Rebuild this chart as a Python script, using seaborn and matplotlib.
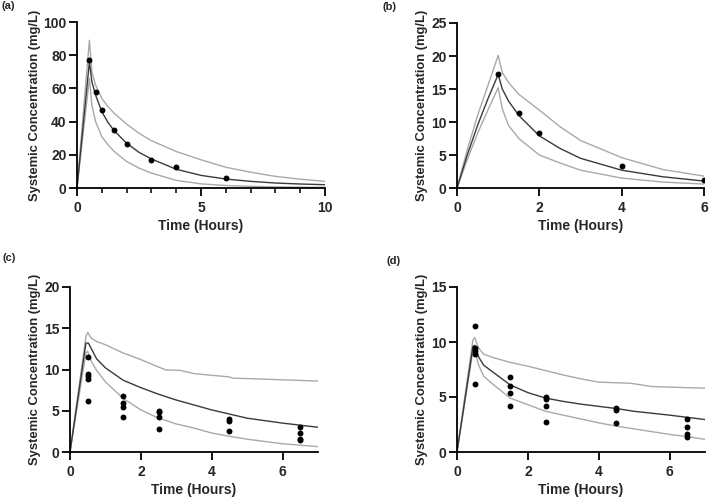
import matplotlib
matplotlib.use("Agg")
import matplotlib.pyplot as plt
import seaborn as sns
import pandas as pd
from matplotlib.ticker import MultipleLocator

# ---------------- data ----------------
# Panel (a)
a_t = [0, 0.5, 0.6, 0.75, 1, 1.25, 1.5, 2, 2.5, 3, 4, 5, 6, 7, 8, 9, 10]
a_med = [0, 76, 64, 56, 46, 39.5, 34.5, 27, 21.5, 17.5, 11.3, 7.6, 5.4, 4.0, 3.0, 2.4, 2.0]
a_up = [0, 89, 70, 62, 54, 49, 45, 38.5, 33, 28.5, 22, 17, 12.5, 9.5, 7, 5.3, 4.0]
a_lo = [0, 66, 50, 40, 31, 26, 22, 16, 12, 9, 4.6, 2.5, 1.5, 1.0, 0.7, 0.5, 0.4]
a_obs_t = [0.5, 0.75, 1, 1.5, 2, 3, 4, 6]
a_obs_c = [77, 58, 47, 35, 26.5, 17, 12.8, 6.3]

# Panel (b)
b_t = [0, 0.25, 0.5, 0.75, 1, 1.1, 1.25, 1.5, 2, 2.5, 3, 4, 5, 6]
b_med = [0, 5, 9.5, 13.5, 17.2, 15.0, 13.2, 11, 7.9, 6.0, 4.5, 2.7, 1.7, 1.05]
b_up = [0, 5.8, 11, 15.5, 20.1, 17.5, 16, 14.2, 11.8, 9.3, 7.2, 4.6, 2.8, 1.8]
b_lo = [0, 4.3, 8.3, 11.8, 15.2, 12.0, 9.5, 7.5, 5.0, 3.8, 2.7, 1.5, 0.9, 0.6]
b_obs_t = [1, 1.5, 2, 4, 6]
b_obs_c = [17.2, 11.4, 8.3, 3.3, 1.2]

# Shared observations for panels (c) and (d)
cd_obs_t = [0.5] * 5 + [1.5] * 4 + [2.5] * 4 + [4.5] * 3 + [6.5] * 4
cd_obs_c = [11.5, 9.5, 9.2, 8.9, 6.2,
            6.8, 6.0, 5.4, 4.2,
            5.0, 4.8, 4.2, 2.75,
            4.0, 3.8, 2.6,
            3.0, 2.3, 1.6, 1.4]

# Panel (c)
c_t_med = [0, 0.45, 0.52, 0.75, 1, 1.5, 2, 2.5, 3, 3.5, 4, 4.5, 5, 6, 7]
c_med = [0, 13.2, 13.2, 11.3, 10.2, 8.7, 7.8, 7.0, 6.3, 5.7, 5.1, 4.6, 4.1, 3.5, 3.0]
c_t_up = [0, 0.45, 0.5, 0.6, 0.75, 1, 1.5, 2, 2.5, 2.7, 3.1, 3.5, 4, 4.5, 4.6, 5, 6, 7]
c_up = [0, 14.0, 14.5, 13.8, 13.4, 13.0, 12.0, 11.2, 10.3, 9.95, 9.9, 9.5, 9.3, 9.1, 8.95, 8.9, 8.75, 8.6]
c_t_lo = [0, 0.45, 0.5, 0.6, 0.75, 1, 1.5, 2, 2.5, 3, 3.5, 4, 4.5, 5, 6, 7]
c_lo = [0, 12.0, 12.2, 11.0, 9.9, 8.5, 6.5, 5.1, 4.1, 3.4, 2.9, 2.3, 1.9, 1.55, 1.0, 0.65]

# Panel (d)
d_t_up = [0, 0.45, 0.5, 0.6, 0.75, 1, 1.5, 2, 2.5, 3, 3.5, 4, 4.9, 5.5, 6, 7]
d_up = [0, 10.2, 10.4, 9.5, 8.9, 8.6, 8.15, 7.8, 7.4, 7.0, 6.65, 6.35, 6.25, 5.95, 5.9, 5.8]
d_t_med = [0, 0.45, 0.5, 0.6, 0.75, 1, 1.5, 2, 2.5, 3, 3.5, 4, 4.5, 5, 6, 6.5, 7]
d_med = [0, 9.6, 9.7, 8.7, 7.9, 7.3, 6.1, 5.4, 4.9, 4.6, 4.35, 4.15, 3.95, 3.7, 3.35, 3.15, 2.95]
d_lo = [0, 9.2, 9.4, 8.0, 6.9, 6.2, 4.9, 4.3, 3.7, 3.35, 3.0, 2.65, 2.35, 2.1, 1.6, 1.4, 1.15]

panel_labels = ["(a)", "(b)", "(c)", "(d)"]
x_label = "Time (Hours)"
y_label = "Systemic Concentration (mg/L)"

# ---------------- style ----------------
sns.set_style("ticks")
plt.rcParams["font.family"] = ["Liberation Sans", "DejaVu Sans"]
plt.rcParams["font.weight"] = "bold"

MED = "#3a3a3a"
BAND = "#a9a9a9"

fig = plt.figure(figsize=(7.09, 4.98), dpi=100)

axes_pos = [
    [77 / 709, 1 - 188 / 498, 248 / 709, 166 / 498],
    [457 / 709, 1 - 188 / 498, 247 / 709, 165 / 498],
    [70 / 709, 1 - 452 / 498, 248 / 709, 165 / 498],
    [457 / 709, 1 - 452 / 498, 248 / 709, 165 / 498],
]


def line(ax, t, c, color, lw):
    df = pd.DataFrame({"t": t, "c": c})
    sns.lineplot(data=df, x="t", y="c", ax=ax, color=color, lw=lw,
                 sort=False, estimator=None)


def dots(ax, t, c):
    df = pd.DataFrame({"t": t, "c": c})
    sns.scatterplot(data=df, x="t", y="c", ax=ax, color="black", s=18,
                    linewidth=0, zorder=5)


specs = [
    dict(lines=[(a_t, a_up, BAND), (a_t, a_lo, BAND), (a_t, a_med, MED)],
         obs=(a_obs_t, a_obs_c), xlim=10, ylim=100, xmaj=5, xmin=1, ymaj=20),
    dict(lines=[(b_t, b_up, BAND), (b_t, b_lo, BAND), (b_t, b_med, MED)],
         obs=(b_obs_t, b_obs_c), xlim=6, ylim=25, xmaj=2, xmin=None, ymaj=5),
    dict(lines=[(c_t_up, c_up, BAND), (c_t_lo, c_lo, BAND), (c_t_med, c_med, MED)],
         obs=(cd_obs_t, cd_obs_c), xlim=7, ylim=20, xmaj=2, xmin=None, ymaj=5),
    dict(lines=[(d_t_up, d_up, BAND), (d_t_med, d_lo, BAND), (d_t_med, d_med, MED)],
         obs=(cd_obs_t, cd_obs_c), xlim=7, ylim=15, xmaj=2, xmin=None, ymaj=5),
]

for pos, spec, lab in zip(axes_pos, specs, panel_labels):
    ax = fig.add_axes(pos)
    for t, c, col in spec["lines"]:
        line(ax, t, c, col, 1.0)
    dots(ax, *spec["obs"])
    ax.set_xlim(0, spec["xlim"])
    ax.set_ylim(0, spec["ylim"])
    ax.xaxis.set_major_locator(MultipleLocator(spec["xmaj"]))
    if spec["xmin"]:
        ax.xaxis.set_minor_locator(MultipleLocator(spec["xmin"]))
    ax.yaxis.set_major_locator(MultipleLocator(spec["ymaj"]))
    sns.despine(ax=ax)
    for s in ["left", "bottom"]:
        ax.spines[s].set_linewidth(1.3)
        ax.spines[s].set_color("black")
    ax.tick_params(which="major", length=6, width=1.3, color="black",
                   labelsize=10, pad=3)
    ax.tick_params(axis="y", which="major", pad=1.5)
    ax.tick_params(which="minor", length=3.5, width=1.1, color="black")
    for tl in ax.get_xticklabels() + ax.get_yticklabels():
        tl.set_fontweight("bold")
    ax.set_xlabel(x_label, fontsize=10, fontweight="bold", labelpad=3)
    ax.set_ylabel(y_label, fontsize=9.4, fontweight="bold", labelpad=2)

fig.text(0.002, 0.997, panel_labels[0], fontsize=8, fontweight="bold", va="top", ha="left")
fig.text(0.540, 0.995, panel_labels[1], fontsize=8, fontweight="bold", va="top", ha="left")
fig.text(0.003, 0.491, panel_labels[2], fontsize=8, fontweight="bold", va="top", ha="left")
fig.text(0.545, 0.485, panel_labels[3], fontsize=8, fontweight="bold", va="top", ha="left")

fig.savefig("out.png", dpi=100)
